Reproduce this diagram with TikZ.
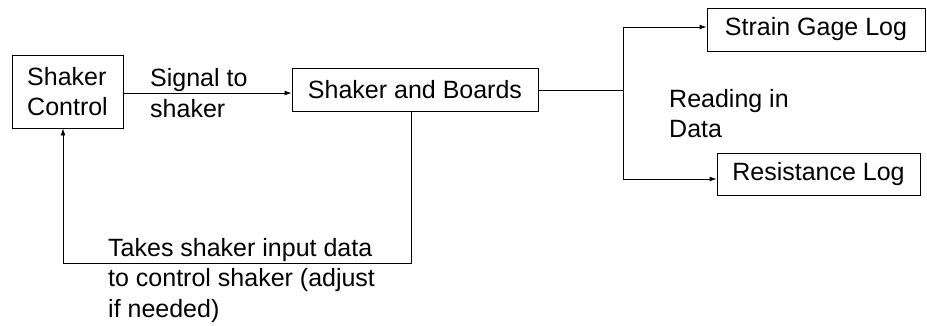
\documentclass[tikz,border=0pt]{standalone}
\usepackage{fontspec}
\setmainfont{Liberation Sans}
\usetikzlibrary{arrows.meta}
\begin{document}
\begin{tikzpicture}[x=1pt,y=-1pt,
  box/.style={draw, line width=0.9pt, inner sep=0pt, font=\fontsize{25}{30.5}\selectfont},
  lbl/.style={inner sep=0pt, align=left, anchor=base west, font=\fontsize{25}{30.5}\selectfont},
  conn/.style={line width=0.9pt},
  arr/.style={conn, -{Latex[length=7pt,width=5pt]}}]
\useasboundingbox (0,0) rectangle (927,325);
\node[box, minimum width=111pt, minimum height=73pt, align=left] (ctrl) at (67.5,91.5) {Shaker\\Control};
\node[box, minimum width=246pt, minimum height=43pt] (sb) at (415,89.5) {Shaker and Boards};
\node[box, minimum width=218pt, minimum height=43pt] (sg) at (816,29.5) {Strain Gage Log};
\node[box, minimum width=203pt, minimum height=42pt] (res) at (818.5,174) {Resistance Log};
\node[lbl] (sig) at (150,117) {Signal to\\shaker};
\node[lbl] (read) at (669,137.5) {Reading in\\Data};
\node[lbl] (takes) at (108,317) {Takes shaker input data\\to control shaker (adjust\\if needed)};
\coordinate (fb1) at (411,263);
\coordinate (fb2) at (63,263);
\coordinate (br) at (623,90);
\coordinate (brt) at (623,27);
\coordinate (brb) at (623,179);
\draw[arr] (ctrl.east |- 0,93) -- (sb.west |- 0,93);
\draw[arr] (sb.south -| fb1) -- (fb1) -- (fb2) -- (ctrl.south -| fb2);
\draw[conn] (sb.east |- br) -- (br);
\draw[arr] (brb) -- (brt) -- (sg.west |- brt);
\draw[arr] (brb) -- (res.west |- brb);
\end{tikzpicture}
\end{document}
